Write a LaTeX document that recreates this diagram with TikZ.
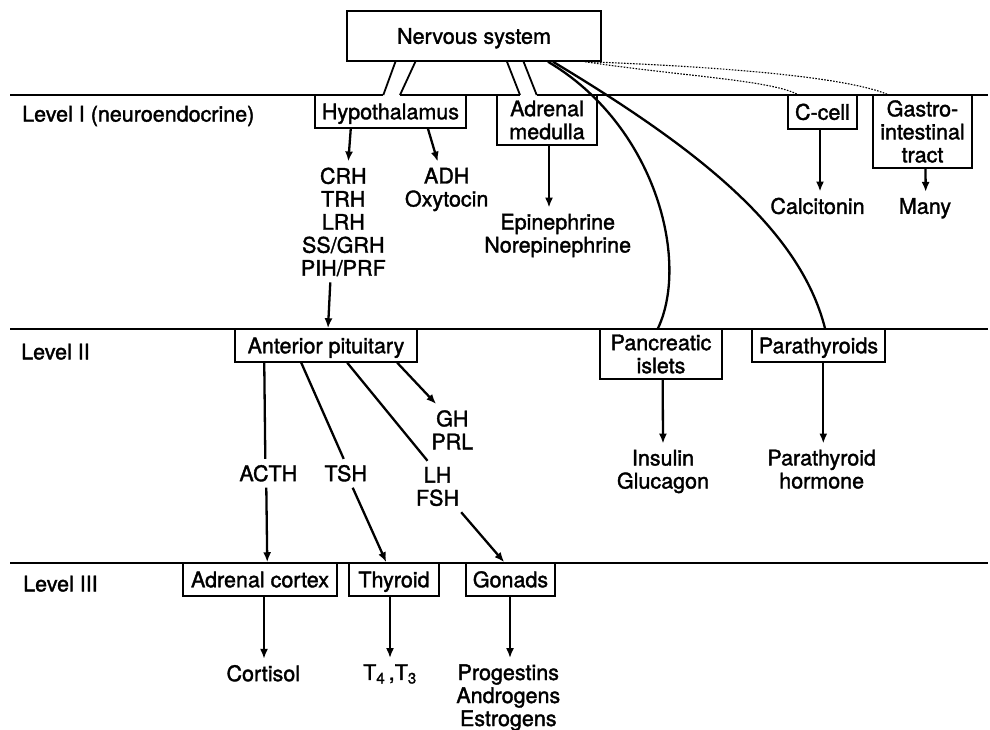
\documentclass[tikz,border=0pt]{standalone}
\usepackage{fontspec}
\setmainfont{TeX Gyre Heros}[FakeBold=1.6]
\usetikzlibrary{arrows.meta}
\begin{document}
\begin{tikzpicture}[x=1pt,y=-1pt,
  every node/.style={font=\fontsize{21.5}{23}\selectfont},
  box/.style={draw, line width=1.5pt, inner sep=0pt, align=center},
  onebox/.style={box, text height=15.5pt, text depth=0pt},
  opentop/.style={inner sep=0pt, align=center},
  boxline/.style={line width=1.5pt},
  lbl/.style={inner xsep=2pt, inner ysep=6pt, align=center},
  lvl/.style={line width=1.8pt},
  link/.style={line width=2.3pt},
  arr/.style={line width=2.3pt, -{Latex[length=10pt,width=8pt]}},
  dot/.style={line width=1.1pt, dash pattern=on 1.6pt off 1.4pt}]
\useasboundingbox (0,0) rectangle (990,729);

% level rules (the top one is open where the two ducts come down)
\draw[lvl] (10,95) -- (383.3,95);
\draw[lvl] (400,95) -- (520,95);
\draw[lvl] (536.7,95) -- (988,95);
\draw[lvl] (10,329) -- (988,329);
\draw[lvl] (10,563) -- (988,563);

\node[anchor=west, inner sep=0pt] (l1) at (22,116) {Level I (neuroendocrine)};
\node[anchor=west, inner sep=0pt] (l2) at (21,351.7) {Level II};
\node[anchor=west, inner sep=0pt] (l3) at (23,583.7) {Level III};

% nervous system and its two ducts
\node[onebox, minimum width=254pt, minimum height=50pt] (ns) at (474,36) {Nervous system};
\draw[lvl] (395.7,61) -- (383.3,95);
\draw[lvl] (415.7,61) -- (400,95);
\draw[lvl] (506.7,61) -- (520,95);
\draw[lvl] (523.3,61) -- (536.7,95);

% level I
\node[opentop, minimum width=151pt, minimum height=33pt, text height=15.5pt, text depth=0pt] (hyp) at (390.5,111.5) {Hypothalamus};
\draw[boxline] (hyp.north west) -- (hyp.south west) -- (hyp.south east) -- (hyp.north east);
\node[opentop, minimum width=100pt, minimum height=50pt] (adm) at (547,120) {Adrenal\\medulla};
\draw[boxline] (adm.north west) -- (adm.south west) -- (adm.south east) -- (adm.north east);
\node[onebox, minimum width=69pt, minimum height=34pt] (cc) at (822.5,112) {C-cell};
\node[box, minimum width=99pt, minimum height=73pt] (gi) at (922.5,131.5) {Gastro-\\intestinal\\tract};

\node[lbl] (crh) at (343.3,221.9) {CRH\\TRH\\LRH\\SS/GRH\\PIH/PRF};
\node[lbl] (adh) at (446.7,189.5) {ADH\\Oxytocin};
\node[lbl] (epi) at (557.7,235.5) {Epinephrine\\Norepinephrine};
\node[lbl] (calc) at (817.5,206) {Calcitonin};
\node[lbl] (many) at (925,208.3) {Many};

% level II
\node[onebox, minimum width=182pt, minimum height=33pt] (ap) at (326,345.5) {Anterior pituitary};
\node[box, minimum width=122pt, minimum height=50pt] (pan) at (661,354) {Pancreatic\\islets};
\node[onebox, minimum width=133pt, minimum height=33pt] (para) at (818.5,345.5) {Parathyroids};

\node[lbl] (acth) at (268.3,473.3) {ACTH};
\node[lbl] (tsh) at (345.7,473.3) {TSH};
\node[lbl] (lh) at (437.5,486.5) {LH\\FSH};
\node[lbl] (gh) at (452.3,429.8) {GH\\PRL};
\node[lbl] (ins) at (663,471.5) {Insulin\\Glucagon};
\node[lbl] (pth) at (821.7,469.2) {Parathyroid\\hormone};

% level III
\node[onebox, minimum width=154pt, minimum height=33pt] (adc) at (260,579.5) {Adrenal cortex};
\node[onebox, minimum width=90pt, minimum height=33pt] (thy) at (394,579.5) {Thyroid};
\node[onebox, minimum width=89pt, minimum height=33pt] (gon) at (510.5,579.5) {Gonads};

\node[lbl] (cort) at (263.3,673.3) {Cortisol};
\node[lbl] (t43) at (390,674) {T\textsubscript{4}\,,T\textsubscript{3}};
\node[lbl] (sex) at (508.3,697.5) {Progestins\\Androgens\\Estrogens};

% nervous links
\draw[link] ([xshift=74]ns.south) .. controls (655,125) and (690,260) .. ([xshift=-3]pan.north);
\draw[link] ([xshift=79]ns.south) .. controls (700,150) and (800,230) .. ([xshift=6.5]para.north);
\draw[dot] ([xshift=111]ns.south) .. controls (680,76) and (770,80) .. ([xshift=10]cc.north west);
\draw[dot] ([xshift=114]ns.south) .. controls (700,66) and (840,75) .. ([xshift=15]gi.north west);

% level I secretions
\draw[arr] ([xshift=36]hyp.south west) -- ([xshift=5]crh.north);
\draw[arr] ([xshift=113]hyp.south west) -- ([xshift=-9]adh.north);
\draw[arr] ([xshift=2]adm.south) -- ([xshift=-8.7]epi.north);
\draw[arr] ([xshift=-2.5]cc.south) -- ([xshift=2.5]calc.north);
\draw[arr] ([xshift=3]gi.south) -- ([xshift=0.7]many.north);
\draw[arr] ([xshift=-13]crh.south) -- ([xshift=2]ap.north);

% level II secretions
\draw[link] ([xshift=30]ap.south west) -- ([xshift=-3]acth.north);
\draw[arr] ([xshift=-2]acth.south) -- ([xshift=85]adc.north west);
\draw[link] ([xshift=67]ap.south west) -- ([xshift=-2]tsh.north);
\draw[arr] ([xshift=7]tsh.south) -- ([xshift=38]thy.north west);
\draw[link] ([xshift=113]ap.south west) -- ([xshift=-10]lh.north);
\draw[arr] (lh.south east) -- ([xshift=39]gon.north west);
\draw[arr] ([xshift=163]ap.south west) -- ([xshift=7]gh.north west);
\draw[arr] ([xshift=1.7]pan.south) -- (ins.north);
\draw[arr] ([xshift=4.8]para.south) -- ([xshift=1.6]pth.north);

% level III secretions
\draw[arr] ([xshift=4]adc.south) -- ([xshift=0.7]cort.north);
\draw[arr] ([xshift=-4]thy.south) -- (t43.north);
\draw[arr] ([xshift=-0.5]gon.south) -- ([xshift=1.7]sex.north);
\end{tikzpicture}
\end{document}
